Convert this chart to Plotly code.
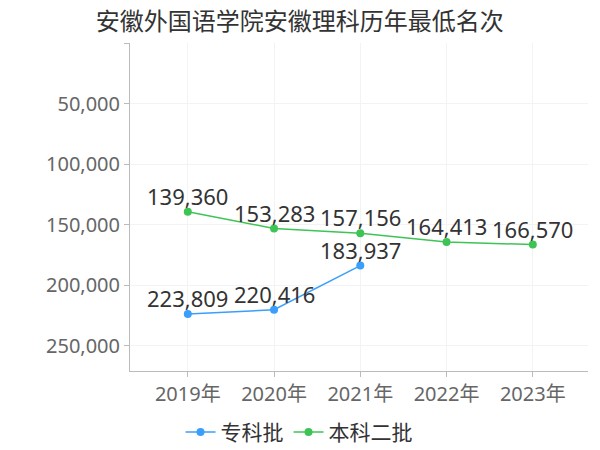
import plotly.graph_objects as go

years = ["2019年", "2020年", "2021年", "2022年", "2023年"]
zk_years = ["2019年", "2020年", "2021年"]
zk_vals = [223809, 220416, 183937]
bk_vals = [139360, 153283, 157156, 164413, 166570]
y_ticks = [0, 50000, 100000, 150000, 200000, 250000]
y_ticktext = ["", "50,000", "100,000", "150,000", "200,000", "250,000"]

FONT = "Noto Sans, Noto Sans CJK SC"
BLUE = "#3a9ffb"
GREEN = "#3ec455"

fig = go.Figure()
series = [("专科批", zk_years, zk_vals, BLUE), ("本科二批", years, bk_vals, GREEN)]
annotations = []
for name, xs, ys, col in series:
    fig.add_trace(go.Scatter(
        x=xs, y=ys, name=name, mode="lines+markers",
        line=dict(color=col, width=1.5), marker=dict(color=col, size=8),
    ))
    for xv, yv in zip(xs, ys):
        annotations.append(dict(
            x=xv, y=yv, xref="x", yref="y", text=f"{yv:,}", showarrow=False,
            xanchor="center", yanchor="bottom", yshift=-1,
            font=dict(size=22, color="#333333", family=FONT),
        ))

fig.update_layout(
    width=592, height=442,
    margin=dict(l=122, r=12, t=35, b=79),
    paper_bgcolor="white", plot_bgcolor="white",
    font=dict(family=FONT, color="#666666"),
    title=dict(text="安徽外国语学院安徽理科历年最低名次", x=0.493, xanchor="center",
               y=0.97, yanchor="middle",
               font=dict(size=24, color="#333333", family=FONT)),
    showlegend=True,
    legend=dict(orientation="h", xref="container", yref="container",
                x=0.4916, xanchor="center", y=0.04, yanchor="middle",
                font=dict(size=21, color="#333333", family=FONT),
                itemwidth=30, tracegroupgap=0),
    annotations=annotations,
    xaxis=dict(
        type="category", categoryorder="array", categoryarray=years,
        range=[-0.67, 4.64], automargin=False,
        showline=True, linecolor="#bbbbbb", linewidth=1,
        showgrid=True, gridcolor="#f3f3f3",
        ticks="outside", ticklen=5, tickcolor="#bbbbbb",
        tickfont=dict(size=20, color="#666666", family=FONT),
        zeroline=False,
    ),
    yaxis=dict(
        range=[271000, 0], automargin=False,
        tickvals=y_ticks, ticktext=y_ticktext,
        showline=True, linecolor="#bbbbbb", linewidth=1,
        showgrid=True, gridcolor="#f3f3f3",
        ticks="outside", ticklen=5, tickcolor="#bbbbbb",
        tickfont=dict(size=20, color="#666666", family=FONT),
        zeroline=False,
    ),
)

fig.write_html("out.html")
